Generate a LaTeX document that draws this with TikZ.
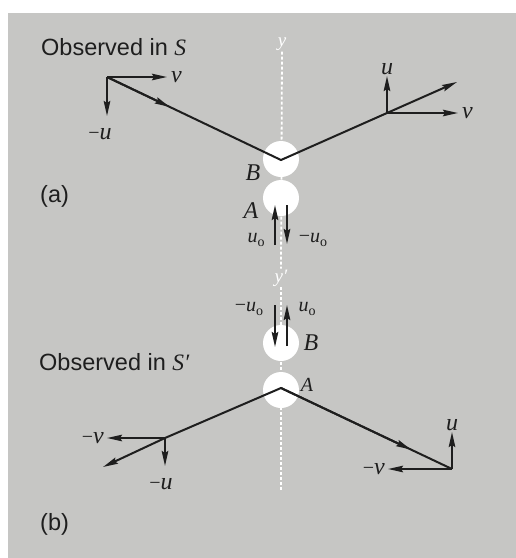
\documentclass[tikz,border=0pt]{standalone}
\usepackage{fontspec}
\setmainfont{Liberation Serif}
\setsansfont{Liberation Sans}
\usetikzlibrary{positioning,calc,arrows.meta}
\definecolor{panel}{RGB}{198,198,196}
\definecolor{ink}{RGB}{30,30,30}
\newcommand{\sub}[1]{#1\raisebox{-4pt}{\fontsize{14}{14}\selectfont\upshape o}}
\newcommand{\mns}{{\upshape\fontsize{20}{20}\selectfont \textminus}}

\begin{document}
\begin{tikzpicture}[x=1pt,y=-1pt,
				vec/.style={draw=ink,line width=2pt,-{Stealth[length=15pt,width=6.5pt,inset=2pt]}},
				track/.style={draw=ink,line width=2pt},
				lbl/.style={font=\fontsize{24}{24}\selectfont\itshape,inner sep=1pt,text=ink},
				caption/.style={font=\fontsize{23.5}{26}\selectfont\sffamily,inner sep=0pt,anchor=west,text=ink},
				ball/.style={circle,fill=white,minimum size=36pt,inner sep=0pt},
				yaxis/.style={draw=white,line width=1.8pt,dash pattern=on 3pt off 2pt},
				node distance=2pt]
				\fill[white] (0,0) rectangle (516,558);
				\fill[panel] (8,13) rectangle (516,558);
				\useasboundingbox (0,0) rectangle (516,558);
				
				% axis and balls
				\node (ya) [lbl,text=white,font=\fontsize{19}{19}\selectfont\itshape] at (282,44) {y};
				\node (yb) [lbl,text=white,font=\fontsize{19}{19}\selectfont\itshape] at (281,278) {y′};
				\draw[yaxis] (ya.south) -- (yb.north);
				\draw[yaxis] (yb.south) -- (281,490);
				\node (ballBa) [ball] at (281,159) {};
				\node (ballAa) [ball] at (281,198) {};
				\node (ballBb) [ball] at (281,343) {};
				\node (ballAb) [ball] at (281,390) {};
				
				% (a) observed in S
				\coordinate (Ba) at (281,160);
				\coordinate (La) at (107,77);
				\coordinate (Ra) at (387,113);
				\coordinate (Xa) at (457,82);
				\draw[track] (La) -- (Ba) -- (Ra);
				\draw[vec] (La) -- ($(La)!0.36!(Ba)$);
				\draw[vec] (Ra) -- (Xa);
				\draw[vec] (La) -- ++(60,0) coordinate (vLa);
				\draw[vec] (La) -- ++(0,39) coordinate (uLa);
				\draw[vec] (Ra) -- ++(71,0) coordinate (vRa);
				\draw[vec] (Ra) -- ++(0,-37) coordinate (uRa);
				\node (lvLa) [lbl,right=3pt of vLa] {v};
				\node (luLa) [lbl] at (100,134) {\mns u};
				\node (lvRa) [lbl,right=3pt of vRa] {v};
				\node (luRa) [lbl,above=0pt of uRa] {u};
				\node (labB) [lbl] at (253,173) {B};
				\node (labA) [lbl] at (251,211) {A};
				\coordinate (pa1) at (275,245);
				\coordinate (pa2) at (287,205);
				\draw[vec] (pa1) -- ++(0,-40);
				\draw[vec] (pa2) -- ++(0,39);
				\node (luoa) [lbl,font=\fontsize{20}{20}\selectfont\itshape] at (256,240) {\sub{u}};
				\node (lmuoa) [lbl,font=\fontsize{20}{20}\selectfont\itshape] at (313,240) {\mns\sub{u}};
				\node (capa) [caption] at (41,47) {Observed in {\rmfamily\itshape S}};
				\node (taga) [caption] at (40,196) {(a)};
				
				% (b) observed in S'
				\coordinate (Ab) at (281,388);
				\coordinate (Lb) at (165,438);
				\coordinate (Rb) at (452,469);
				\coordinate (Xb) at (103,467);
				\draw[track] (Lb) -- (Ab) -- (Rb);
				\draw[vec] (Ab) -- ($(Ab)!0.76!(Rb)$);
				\draw[vec] (Lb) -- (Xb);
				\draw[vec] (Lb) -- ++(-58,0) coordinate (vLb);
				\draw[vec] (Lb) -- ++(0,28) coordinate (uLb);
				\draw[vec] (Rb) -- ++(-64,0) coordinate (vRb);
				\draw[vec] (Rb) -- ++(0,-37) coordinate (uRb);
				\node (lvLb) [lbl,left=2pt of vLb] {\mns v};
				\node (luLb) [lbl] at (161,484) {\mns u};
				\node (lvRb) [lbl,left=2pt of vRb] {\mns v};
				\node (luRb) [lbl,above=0pt of uRb] {u};
				\node (labBb) [lbl] at (311,343) {B};
				\node (labAb) [lbl,font=\fontsize{20}{20}\selectfont\itshape] at (307,385) {A};
				\coordinate (pb1) at (275,305);
				\coordinate (pb2) at (287,346);
				\draw[vec] (pb1) -- ++(0,42);
				\draw[vec] (pb2) -- ++(0,-41);
				\node (lmuob) [lbl,font=\fontsize{20}{20}\selectfont\itshape] at (249,309) {\mns\sub{u}};
				\node (luob) [lbl,font=\fontsize{20}{20}\selectfont\itshape] at (307,309) {\sub{u}};
				\node (capb) [caption] at (39,362) {Observed in {\rmfamily\itshape S′}};
				\node (tagb) [caption] at (40,524) {(b)};
\end{tikzpicture}
\end{document}
